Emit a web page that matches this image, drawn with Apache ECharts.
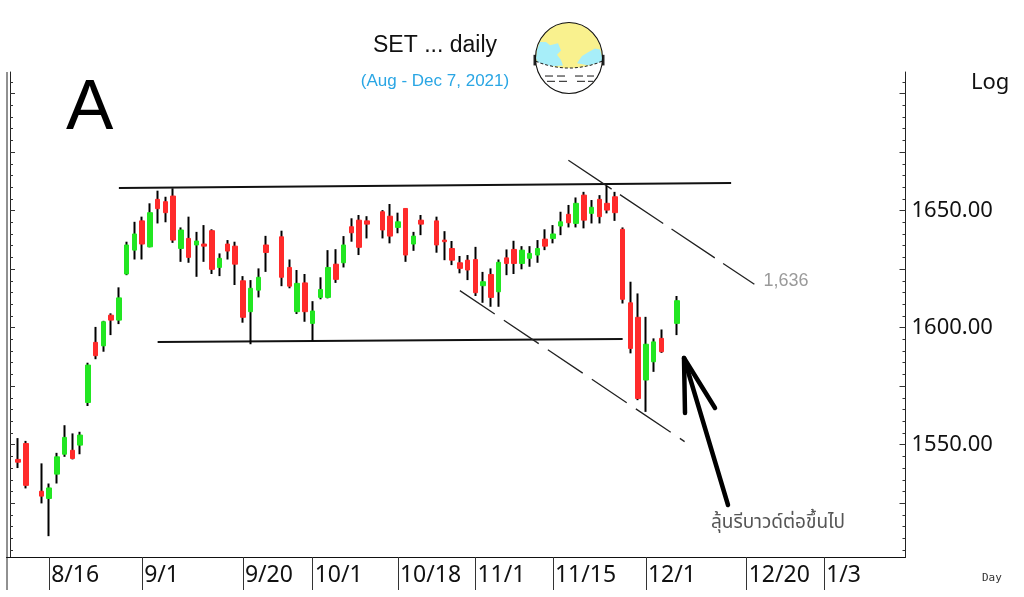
<!DOCTYPE html>
<html><head><meta charset="utf-8">
<script src="https://cdn.jsdelivr.net/npm/echarts@6/dist/echarts.min.js"></script>
<style>html,body{margin:0;padding:0;background:#fff}#c{width:1024px;height:597px}</style>
</head><body><div id="c"></div>
<script>
// weekday slots of the axis (holidays keep their slot)
const categories = ['8/9','8/10','8/11','8/12','8/13','8/16','8/17','8/18','8/19','8/20','8/23','8/24','8/25','8/26','8/27','8/30','8/31',
'9/1','9/2','9/3','9/6','9/7','9/8','9/9','9/10','9/13','9/14','9/15','9/16','9/17','9/20','9/21','9/22','9/23','9/24','9/27','9/28','9/29','9/30',
'10/1','10/4','10/5','10/6','10/7','10/8','10/11','10/12','10/13','10/14','10/15','10/18','10/19','10/20','10/21','10/22','10/25','10/26','10/27','10/28','10/29',
'11/1','11/2','11/3','11/4','11/5','11/8','11/9','11/10','11/11','11/12','11/15','11/16','11/17','11/18','11/19','11/22','11/23','11/24','11/25','11/26','11/29','11/30',
'12/1','12/2','12/3','12/6','12/7','12/8','12/9','12/10','12/13','12/14','12/15','12/16','12/17','12/20','12/21','12/22','12/23','12/24','12/27','12/28','12/29','12/30','12/31',
'1/3','1/4','1/5','1/6','1/7','1/10','1/11','1/12','1/13','1/14','1/17'];
const xTickLabels = ['8/16','9/1','9/20','10/1','10/18','11/1','11/15','12/1','12/20','1/3'];
const yTickLabels = [1550, 1600, 1650];

const tradeDates = ['8/10','8/11','8/13','8/16','8/17','8/18','8/19','8/20','8/23','8/24','8/25','8/26','8/27','8/30','8/31',
'9/1','9/2','9/3','9/6','9/7','9/8','9/9','9/10','9/13','9/14','9/15','9/16','9/17','9/20','9/21','9/22','9/23','9/27','9/28','9/29','9/30',
'10/1','10/4','10/5','10/6','10/7','10/8','10/11','10/12','10/14','10/15','10/18','10/19','10/20','10/21','10/25','10/26','10/27','10/28','10/29',
'11/1','11/2','11/3','11/4','11/5','11/8','11/9','11/10','11/11','11/12','11/15','11/16','11/17','11/18','11/19','11/22','11/23','11/24','11/25','11/26','11/29','11/30',
'12/1','12/2','12/3','12/7'];
const openP = [1543.7,1550.5,1530.1,1527.0,1537.4,1545.9,1547.6,1549.8,1568.0,1593.7,1592.2,1605.3,1603.2,1622.9,1633.1,
1645.6,1634.5,1654.8,1653.8,1656.2,1633.8,1638.1,1635.3,1635.7,1641.4,1625.7,1635.7,1634.8,1620.0,1606.8,1616.0,1635.3,1638.8,1625.7,1606.8,1619.1,
1601.8,1612.9,1612.9,1627.1,1627.7,1643.1,1645.9,1645.6,1649.5,1647.6,1642.8,1650.9,1635.7,1645.9,1645.6,1637.4,1633.8,1627.7,1628.8,
1629.1,1617.9,1622.7,1615.3,1629.8,1633.4,1627.4,1629.6,1631.0,1637.8,1638.1,1643.4,1648.4,1644.5,1656.6,1648.8,1654.8,1653.1,1655.9,1642.0,1610.6,1604.4,
1577.6,1585.4,1595.4,1601.8];
const highP = [1552.8,1551.6,1542.0,1533.4,1546.5,1558.3,1554.8,1555.5,1585.0,1600.3,1602.9,1606.1,1617.2,1636.7,1645.2,
1647.4,1653.1,1658.5,1655.9,1659.5,1642.8,1647.4,1640.9,1643.8,1642.0,1631.7,1637.4,1636.7,1622.0,1620.3,1625.3,1639.2,1641.4,1629.1,1624.6,1622.9,
1611.3,1621.5,1633.1,1633.5,1639.1,1646.7,1648.1,1647.6,1650.2,1652.8,1649.1,1651.0,1640.9,1648.1,1647.4,1641.2,1637.0,1630.6,1631.0,
1634.5,1623.8,1625.3,1629.1,1633.4,1637.1,1634.8,1634.8,1637.4,1642.0,1643.8,1649.5,1652.4,1655.6,1658.0,1654.5,1656.6,1660.5,1658.0,1642.8,1619.6,1614.6,
1604.6,1595.4,1599.2,1613.5];
const lowP = [1540.0,1531.3,1524.9,1510.9,1533.4,1544.8,1543.7,1545.9,1566.5,1586.5,1589.7,1596.8,1601.5,1622.4,1629.1,
1629.1,1634.3,1644.5,1645.0,1636.2,1628.1,1627.7,1621.7,1628.1,1622.9,1622.0,1629.1,1618.2,1602.1,1592.9,1612.9,1623.8,1617.7,1616.8,1605.8,1602.5,
1594.4,1612.1,1612.5,1619.1,1625.7,1636.7,1631.0,1638.1,1638.1,1636.0,1640.3,1628.1,1632.8,1639.5,1632.0,1628.8,1626.7,1623.2,1620.3,
1613.5,1610.6,1608.9,1608.9,1622.4,1622.9,1624.9,1626.0,1627.7,1633.1,1636.0,1639.5,1642.8,1642.8,1642.4,1644.5,1644.5,1648.8,1645.6,1610.3,1589.0,1569.0,
1564.0,1581.1,1589.2,1596.8];
const closeP = [1542.5,1532.6,1528.0,1531.5,1544.8,1553.1,1544.1,1554.1,1584.0,1588.0,1602.5,1603.2,1612.7,1635.3,1640.0,
1635.7,1649.1,1650.8,1649.1,1637.4,1641.7,1630.0,1637.0,1634.8,1624.9,1629.6,1632.7,1627.1,1604.4,1616.8,1621.5,1632.1,1621.5,1617.7,1618.9,1606.8,
1607.1,1616.3,1625.7,1620.6,1635.3,1640.5,1634.3,1644.2,1641.7,1639.1,1645.2,1631.0,1639.1,1644.2,1635.3,1636.7,1628.8,1625.3,1624.6,
1614.9,1619.6,1612.9,1627.9,1627.4,1627.4,1633.1,1631.7,1633.8,1634.8,1640.0,1645.2,1644.8,1653.1,1645.9,1651.4,1647.4,1650.2,1649.1,1612.1,1591.1,1569.7,
1592.9,1593.9,1589.7,1611.5];

// hand-drawn trend lines: [category, value]
const resistanceLine = [['8/27',1659.6],['12/16',1661.8]];
const supportLine = [['9/3',1593.8],['11/26',1595.1]];
const upperChannel = [['11/17',1671.5],['12/21',1618.5]];
const lowerChannel = [['10/28',1615.8],['12/8',1551.3]];
const upperChannelLabel = '1,636';
const noteText = 'ลุ้นรีบาวด์ต่อขึ้นไป';

const Y_MIN = 1502, Y_MAX = 1709.2;
const GREEN = '#22e622', RED = '#ff2b2b';

const wickData = categories.map(d => {
  const i = tradeDates.indexOf(d);
  return i < 0 ? '-' : [openP[i], closeP[i], lowP[i], highP[i]];
});
const bodyData = categories.map(d => {
  const i = tradeDates.indexOf(d);
  if (i < 0) return '-';
  return [openP[i], closeP[i], Math.min(openP[i], closeP[i]), Math.max(openP[i], closeP[i])];
});

const minorTicks = [], majorTicks = [];
for (let v = 1505; v <= 1705; v += 5) { minorTicks.push(v); if (v % 25 === 0) majorTicks.push(v); }
const labelSet = new Set(xTickLabels);
const showCat = (idx, val) => labelSet.has(val);

// logo geometry (decoration): mask edge curve + lower arc
const R = 33.5;
const maskCurve = [];
for (let k = 0; k <= 12; k++) {
  const t = k / 12;
  maskCurve.push([(1-t)*(1-t)*(-33.3) + 2*(1-t)*t*0 + t*t*33.3, (1-t)*(1-t)*3 + 2*(1-t)*t*16 + t*t*3]);
}
const a0 = Math.asin(3 / R);
const maskFill = maskCurve.slice();
for (let k = 0; k <= 16; k++) {
  const a = a0 + (Math.PI - 2*a0) * k / 16;
  maskFill.push([R*Math.cos(a), R*Math.sin(a)]);
}

const chart = echarts.init(document.getElementById('c'), null, {renderer: 'canvas'});
const baseY = {type:'value', min:Y_MIN, max:Y_MAX, splitLine:{show:false}, scale:true};
const dash = (x1, y1, x2, y2) => ({type: 'line', shape: {x1, y1, x2, y2}, style: {stroke: '#222', lineWidth: 1}});
chart.setOption({
  animation: false,
  backgroundColor: '#fff',
  grid: {left: 6.5, right: 118.5, top: 72, bottom: 40},
  xAxis: {
    type: 'category', data: categories, boundaryGap: true,
    axisLine: {show: true, onZero: false, lineStyle: {color: '#111', width: 1}},
    axisTick: {show: true, alignWithLabel: true, interval: showCat, length: 33, lineStyle: {color: '#333', width: 1}},
    axisLabel: {show: true, interval: showCat, align: 'left', padding: [0,0,0,2], margin: 7,
      fontSize: 23, fontFamily: 'Noto Sans', color: '#111'},
    splitLine: {show: false}
  },
  yAxis: [
    Object.assign({}, baseY, {position: 'right',
      axisLine: {show: true, lineStyle: {color: '#222', width: 1}},
      axisTick: {show: true, inside: true, length: 3, customValues: minorTicks, lineStyle: {color: '#333'}},
      axisLabel: {show: true, customValues: yTickLabels, margin: 6, fontSize: 22, fontFamily: 'Noto Sans', color: '#111',
        formatter: v => Number(v).toFixed(2)}}),
    Object.assign({}, baseY, {position: 'right',
      axisLine: {show: false},
      axisTick: {show: true, inside: true, length: 6, customValues: majorTicks, lineStyle: {color: '#333'}},
      axisLabel: {show: false}}),
    Object.assign({}, baseY, {position: 'left', offset: -3.5,
      axisLine: {show: true, lineStyle: {color: '#222', width: 1}},
      axisTick: {show: true, inside: true, length: 3, customValues: minorTicks, lineStyle: {color: '#333'}},
      axisLabel: {show: false}}),
    Object.assign({}, baseY, {position: 'left', offset: -3.5,
      axisLine: {show: false},
      axisTick: {show: true, inside: true, length: 5, customValues: majorTicks, lineStyle: {color: '#333'}},
      axisLabel: {show: false}})
  ],
  series: [
    {type: 'line', data: resistanceLine, symbol: 'none', silent: true, z: 1,
      lineStyle: {color: '#111', width: 2}},
    {type: 'line', data: supportLine, symbol: 'none', silent: true, z: 1,
      lineStyle: {color: '#111', width: 2}},
    {type: 'line', data: upperChannel, symbol: 'none', silent: true, z: 1,
      lineStyle: {color: '#222', width: 1.3, type: [52, 10]},
      endLabel: {show: true, formatter: upperChannelLabel, color: '#9a9a9a', fontSize: 18,
        fontFamily: 'Liberation Sans', distance: 9, offset: [0, -3]}},
    {type: 'line', data: lowerChannel, symbol: 'none', silent: true, z: 1,
      lineStyle: {color: '#222', width: 1.3, type: [42, 11]}},
    {type: 'candlestick', data: wickData, barWidth: 1, z: 2,
      itemStyle: {color: '#000', color0: '#000', borderColor: '#000', borderColor0: '#000', borderWidth: 2}},
    {type: 'candlestick', data: bodyData, barWidth: 5, z: 3,
      itemStyle: {color: GREEN, color0: RED, borderColor: GREEN, borderColor0: RED, borderWidth: 1}}
  ],
  graphic: [
    {type: 'line', shape: {x1: 7, y1: 72, x2: 7, y2: 590}, style: {stroke: '#222', lineWidth: 1}},
    {type: 'text', x: 435, y: 46, style: {text: 'SET ... daily', fill: '#111', font: '23px "Liberation Sans", Arial, sans-serif', textAlign: 'center', textVerticalAlign: 'middle'}},
    {type: 'text', x: 435, y: 81, style: {text: '(Aug - Dec 7, 2021)', fill: '#2aa6e4', font: '17px "Liberation Sans", Arial, sans-serif', textAlign: 'center', textVerticalAlign: 'middle'}},
    {type: 'text', x: 66, y: 109, style: {text: 'A', fill: '#000', font: '71px "Liberation Sans", Arial, sans-serif', textAlign: 'left', textVerticalAlign: 'middle'}},
    {type: 'text', x: 971, y: 83, style: {text: 'Log', fill: '#111', font: '22px "Noto Sans", sans-serif', textAlign: 'left', textVerticalAlign: 'middle'}},
    {type: 'text', x: 982, y: 578, style: {text: 'Day', fill: '#333', font: '11px "DejaVu Sans Mono", monospace', textAlign: 'left', textVerticalAlign: 'middle'}},
    {type: 'polyline', shape: {points: [[728, 505], [684, 358]]}, style: {stroke: '#000', lineWidth: 4.5, lineCap: 'round', fill: null}},
    {type: 'polyline', shape: {points: [[685, 413], [684, 358], [715, 408]]}, style: {stroke: '#000', lineWidth: 4.5, lineCap: 'round', lineJoin: 'round', fill: null}},
    {type: 'text', x: 711, y: 524, style: {text: noteText, fill: '#555', font: '19px "Noto Sans Thai", "Noto Sans", "DejaVu Sans", sans-serif', textAlign: 'left', textVerticalAlign: 'middle'}},
    {type: 'group', x: 569, y: 58, scaleY: 1.06,
      children: [
        {type: 'circle', shape: {cx: 0, cy: 0, r: R}, style: {fill: '#f9f18e'}},
        {type: 'polygon', shape: {points: [[-29,-15],[-23,-15],[-19,-12],[-11,-14],[-8,-7],[-12,-3],[-8,2],[-6,7],[-20,8],[-31,6],[-33,0],[-32,-8]]}, style: {fill: '#a7eef9'}},
        {type: 'polygon', shape: {points: [[8,5],[13,-2],[20,-6],[26,-9],[31,-8],[33,-2],[33,4],[20,7]]}, style: {fill: '#a7eef9'}},
        {type: 'polygon', shape: {points: maskFill}, style: {fill: '#fff'}},
        {type: 'polyline', shape: {points: maskCurve}, style: {fill: null, stroke: '#222', lineWidth: 1, lineDash: [3, 2]}},
        dash(-24, 17, -16, 17), dash(-12, 17, -4, 17), dash(6, 17, 14, 17), dash(18, 17, 25, 17),
        dash(-22, 22, -14, 22), dash(-10, 22, -2, 22), dash(8, 22, 16, 22), dash(19, 22, 24, 22),
        {type: 'rect', shape: {x: -35.5, y: -3, width: 2.5, height: 10}, style: {fill: '#222'}},
        {type: 'rect', shape: {x: 33, y: -3, width: 2.5, height: 10}, style: {fill: '#222'}},
        {type: 'circle', shape: {cx: 0, cy: 0, r: R}, style: {fill: null, stroke: '#111', lineWidth: 1.1}}
      ]}
  ]
});
</script></body></html>
